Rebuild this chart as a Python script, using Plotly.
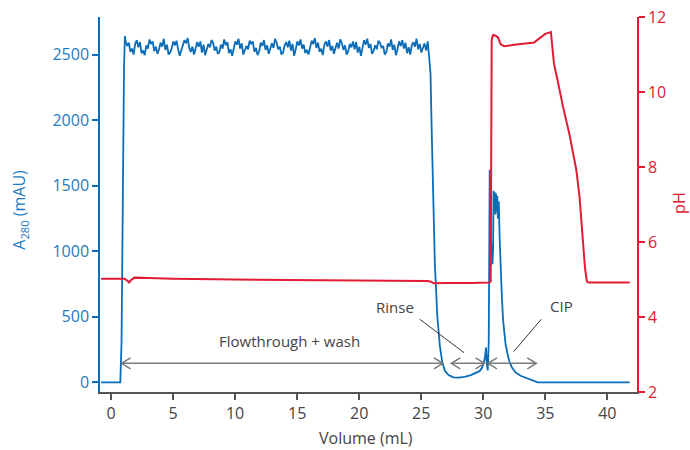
import plotly.graph_objects as go
import numpy as np

# ---------------- data ----------------
# A280 (mAU) trace: lead-in, noisy plateau, elution / CIP
a280_lead_x = [-0.8, 0.75, 0.85, 0.95, 1.05, 1.12]
a280_lead_y = [0, 0, 300, 1500, 2400, 2640]

a280_plateau_y = [
    2600, 2565, 2590, 2520, 2545, 2500, 2580, 2610, 2555, 2595, 2510, 2530,
    2495, 2570, 2545, 2615, 2580, 2600, 2525, 2560, 2505, 2540, 2590, 2560,
    2620, 2535, 2575, 2500, 2515, 2550, 2600, 2570, 2605, 2540, 2490, 2530,
    2565, 2610, 2585, 2625, 2550, 2520, 2560, 2500, 2545, 2595, 2560, 2600,
    2515, 2575, 2495, 2535, 2580, 2555, 2610, 2590, 2530, 2560, 2505, 2520,
    2575, 2545, 2615, 2570, 2595, 2510, 2540, 2490, 2555, 2600, 2575, 2620,
    2545, 2585, 2500, 2530, 2565, 2540, 2605, 2580, 2600, 2520, 2550, 2495,
    2525, 2590, 2565, 2610, 2535, 2570, 2505, 2545, 2585, 2550, 2620, 2590,
    2540, 2560, 2500, 2515, 2570, 2595, 2555, 2605, 2530, 2580, 2490, 2540,
    2600, 2570, 2615, 2545, 2575, 2510, 2535, 2500, 2560, 2605, 2580, 2625,
    2550, 2590, 2520, 2545, 2495, 2575, 2600, 2560, 2610, 2530, 2565, 2505,
    2550, 2590, 2545, 2615, 2585, 2535, 2570, 2500, 2525, 2580, 2555, 2600,
    2540, 2595, 2515, 2560, 2490, 2545, 2610, 2575, 2620, 2550, 2580, 2505,
    2530, 2570, 2540, 2605, 2590, 2550, 2565, 2500, 2520, 2585, 2560, 2615,
    2535, 2575, 2495, 2540, 2600, 2565, 2610, 2545, 2590, 2510, 2555, 2500,
    2570, 2595, 2560, 2620, 2540, 2580, 2515, 2550, 2585, 2530, 2600, 2470,
]
plateau_start, plateau_end = 1.18, 25.65

a280_tail_x = [25.75, 25.85, 25.95, 26.1, 26.3, 26.5, 26.7, 26.9, 27.2, 27.6,
               28.0, 28.5, 29.0, 29.4, 29.7, 29.9, 30.05, 30.15, 30.22, 30.28,
               30.36, 30.44, 30.48, 30.52, 30.58, 30.66, 30.74, 30.79, 30.83,
               30.88, 30.93, 30.98, 31.03, 31.08, 31.13, 31.18, 31.25, 31.32,
               31.4, 31.5, 31.6, 31.7, 31.8, 31.95, 32.1, 32.3, 32.6, 33.0,
               33.5, 34.0, 34.4, 41.8]
a280_tail_y = [2350, 1900, 1400, 900, 500, 280, 150, 90, 55, 38,
               35, 42, 55, 70, 85, 110, 150, 200, 265, 150,
               90, 300, 1000, 1620, 1150, 950, 900, 1000, 1460,
               1300, 1450, 1280, 1440, 1300, 1420, 1250, 1380, 1100,
               850, 650, 470, 370, 290, 220, 160, 115, 75, 50,
               30, 10, 0, 0]

# pH trace
ph_x = [-0.8, 1.1, 1.3, 1.45, 1.6, 1.9, 3, 5, 10, 15, 20, 25.5, 25.8, 26.0,
        27, 28, 29, 30.5, 30.6, 30.68, 30.8, 31.0, 31.2, 31.4, 31.7, 32.5,
        33.5, 34.1, 34.6, 35.0, 35.45, 35.55, 35.7, 36.0, 36.4, 36.96, 37.5,
        37.76, 38.03, 38.2, 38.35, 38.5, 41.8]
ph_y = [5.02, 5.02, 4.97, 4.92, 4.98, 5.05, 5.04, 5.02, 5.0, 4.99, 4.97, 4.96,
        4.94, 4.9, 4.91, 4.9, 4.91, 4.92, 4.95, 11.4, 11.52, 11.5, 11.45,
        11.27, 11.22, 11.26, 11.29, 11.32, 11.45, 11.55, 11.6, 11.3, 10.75,
        10.3, 9.65, 8.85, 7.92, 7.2, 6.14, 5.3, 4.95, 4.92, 4.92]

# tick labels
x_ticks = [0, 5, 10, 15, 20, 25, 30, 35, 40]
y_ticks = [0, 500, 1000, 1500, 2000, 2500]
y2_ticks = [2, 4, 6, 8, 10, 12]

# annotation arrows (volume start, volume end) at A280 level
arrow_level = 145
arrow_spans = [(0.85, 26.75), (27.42, 30.1), (30.38, 34.27)]
labels = [("Flowthrough + wash", 14.4, 315), ("Rinse", 22.9, 575), ("CIP", 36.3, 583)]
leaders = [((24.88, 481), (28.45, 226)), ((34.68, 481), (32.45, 234))]

# ---------------- styling ----------------
BLUE = "#0b6db7"
BLUE_TXT = "#1f7bbf"
RED = "#e01b32"
GREY = "#7a7a7a"
DARK = "#444444"
FONT = "Open Sans"

plateau_x = np.linspace(plateau_start, plateau_end, len(a280_plateau_y))
a280_x = list(a280_lead_x) + list(plateau_x) + list(a280_tail_x)
a280_y = list(a280_lead_y) + list(a280_plateau_y) + list(a280_tail_y)

fig = go.Figure()
fig.add_trace(go.Scatter(x=ph_x, y=ph_y, mode="lines", yaxis="y2",
                         line=dict(color=RED, width=2), showlegend=False))
fig.add_trace(go.Scatter(x=a280_x, y=a280_y, mode="lines",
                         line=dict(color=BLUE, width=1.8), showlegend=False))

shapes = []
for (a, b) in arrow_spans:
    shapes.append(dict(type="line", xref="x", yref="y", x0=a, x1=b,
                       y0=arrow_level, y1=arrow_level,
                       line=dict(color=GREY, width=1.5)))
    shapes.append(dict(type="path", xref="x", yref="y", xsizemode="pixel",
                       ysizemode="pixel", xanchor=a, yanchor=arrow_level,
                       path="M 9 5.5 L 0 0 L 9 -5.5",
                       line=dict(color=GREY, width=1.5)))
    shapes.append(dict(type="path", xref="x", yref="y", xsizemode="pixel",
                       ysizemode="pixel", xanchor=b, yanchor=arrow_level,
                       path="M -9 5.5 L 0 0 L -9 -5.5",
                       line=dict(color=GREY, width=1.5)))
for (p0, p1) in leaders:
    shapes.append(dict(type="line", xref="x", yref="y", x0=p0[0], y0=p0[1],
                       x1=p1[0], y1=p1[1], line=dict(color="#333333", width=1)))

annotations = [dict(text=t, x=x, y=y, xref="x", yref="y", showarrow=False,
                    font=dict(family=FONT, size=15, color=DARK))
               for (t, x, y) in labels]
# axis titles placed as annotations for exact positioning
annotations.append(dict(text="A<sub>280</sub> (mAU)", xref="paper", yref="paper",
                        x=-0.149, y=0.486, textangle=-90, showarrow=False,
                        xanchor="center", yanchor="middle",
                        font=dict(family=FONT, size=16, color=BLUE_TXT)))
annotations.append(dict(text="pH", xref="paper", yref="paper",
                        x=1.078, y=0.504, textangle=-90, showarrow=False,
                        xanchor="center", yanchor="middle",
                        font=dict(family=FONT, size=16, color=RED)))
annotations.append(dict(text="Volume (mL)", xref="paper", yref="paper",
                        x=0.495, y=-0.1228, showarrow=False,
                        xanchor="center", yanchor="middle",
                        font=dict(family=FONT, size=16, color=DARK)))

fig.update_layout(
    width=690, height=450,
    margin=dict(l=100, r=52.7, t=17.3, b=58),
    paper_bgcolor="white", plot_bgcolor="white",
    font=dict(family=FONT, size=16),
    shapes=shapes, annotations=annotations,
    xaxis=dict(range=[-0.886, 42.39], tickvals=x_ticks, showgrid=False,
               automargin=False, ticklabeloverflow="allow",
               zeroline=False, showline=True, linecolor="#555555", linewidth=1.5,
               ticks="outside", ticklen=6, tickcolor="#555555", tickwidth=1.5,
               tickfont=dict(family=FONT, size=16, color=DARK)),
    yaxis=dict(range=[-74, 2786], tickvals=y_ticks, showgrid=False,
               automargin=False, ticklabeloverflow="allow",
               zeroline=False, showline=True, linecolor=BLUE, linewidth=1.5,
               ticks="outside", ticklen=6, tickcolor=BLUE, tickwidth=1.5,
               tickfont=dict(family=FONT, size=16, color=BLUE_TXT)),
    yaxis2=dict(range=[2, 12], tickvals=y2_ticks, overlaying="y", side="right",
                automargin=False, ticklabeloverflow="allow",
                showgrid=False, zeroline=False, showline=True, linecolor=RED,
                linewidth=1.5, ticks="outside", ticklen=6, tickcolor=RED,
                tickwidth=1.5, tickfont=dict(family=FONT, size=16, color=RED)),
)

# remove the default 8px page margin so the figure fills the window exactly
fig.write_html("out.html", config={"displayModeBar": False},
               post_script="document.body.style.margin='0px';")
